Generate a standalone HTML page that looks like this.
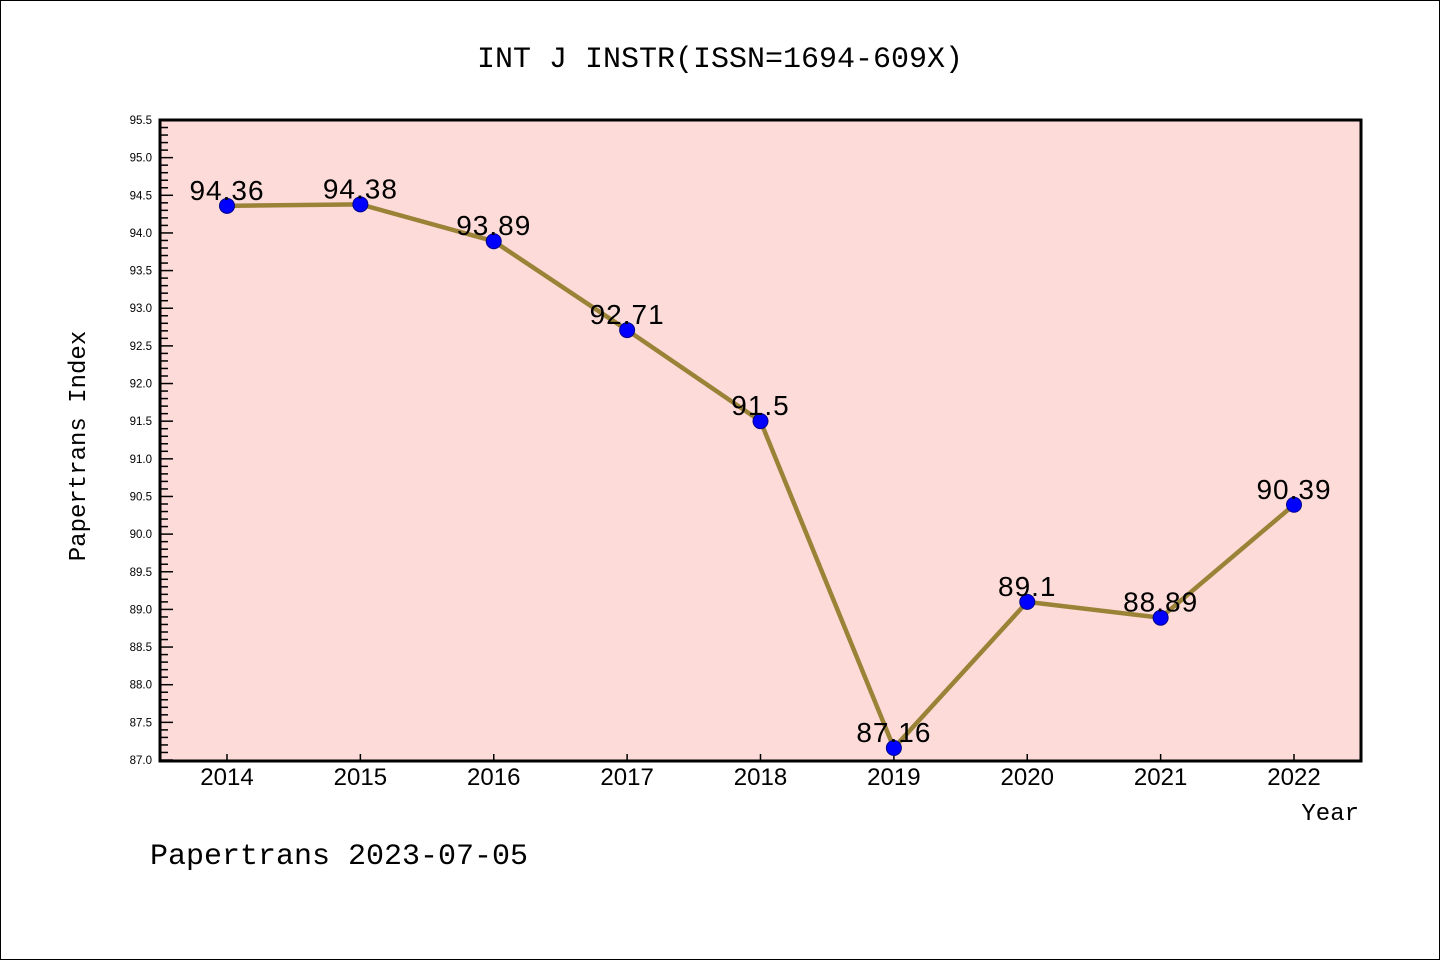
<!DOCTYPE html>
<html><head><meta charset="utf-8"><style>
body{margin:0;background:#fff}
svg{display:block;font-family:"Liberation Sans","WenQuanYi Zen Hei",sans-serif}
</style></head><body>
<svg id="c" width="1440" height="960">
<rect x="0.5" y="0.5" width="1439" height="959" fill="#fff" stroke="#000"/>
<text x="720" y="67" font-size="30" text-anchor="middle" font-family="'WenQuanYi Zen Hei','Liberation Mono',monospace">INT J INSTR(ISSN=1694-609X)</text>
<rect x="160" y="120" width="1201" height="641" fill="#fddbd8"/>
<g id="yt"></g><g id="xt"></g><g id="series"></g>
<rect x="160" y="120" width="1201" height="641" fill="none" stroke="#000" stroke-width="3"/>
<text transform="translate(85,446) rotate(-90)" font-size="24" text-anchor="middle" font-family="'WenQuanYi Zen Hei','Liberation Mono',monospace">Papertrans Index</text>
<text x="1359" y="820" font-size="24" text-anchor="end" font-family="'WenQuanYi Zen Hei','Liberation Mono',monospace">Year</text>
<text x="150" y="864" font-size="30" font-family="'WenQuanYi Zen Hei','Liberation Mono',monospace">Papertrans 2023-07-05</text>
</svg>
<script>
const years=["2014","2015","2016","2017","2018","2019","2020","2021","2022"];
const values=[94.36,94.38,93.89,92.71,91.5,87.16,89.1,88.89,90.39];
const labels=["94.36","94.38","93.89","92.71","91.5","87.16","89.1","88.89","90.39"];
const yMin=87.0,yMax=95.5;
const NS="http://www.w3.org/2000/svg";
function y(v){return 760-(v-yMin)/(yMax-yMin)*640;}
function x(i){return 227+i*(1294-227)/(years.length-1);}
function mk(t,a,p){const e=document.createElementNS(NS,t);for(const k in a)e.setAttribute(k,a[k]);p.appendChild(e);return e;}
const yt=document.getElementById('yt'),xt=document.getElementById('xt'),s=document.getElementById('series');
for(let k=0;k<=85;k++){const v=yMin+k*0.1,yy=y(v),maj=k%5===0;
 const l=mk('line',{x1:160,x2:maj?173:168,y1:yy,y2:yy,stroke:'#000','stroke-width':1.5},yt);
 
 
 if(maj){const t=mk('text',{x:152,y:yy+4,'font-size':11.5,'text-anchor':'end'},yt);t.textContent=v.toFixed(1);
 
 }}
years.forEach((yr,i)=>{const l=mk('line',{x1:x(i),x2:x(i),y1:760,y2:754,stroke:'#000','stroke-width':1.5},xt);
 
 
 const t=mk('text',{x:x(i),y:785,'font-size':24,'text-anchor':'middle','font-family':"'WenQuanYi Zen Hei',sans-serif"},xt);t.textContent=yr;
 
 });
const pl=mk('polyline',{points:values.map((v,i)=>x(i)+','+y(v)).join(' '),fill:'none',stroke:'#9a8237','stroke-width':4.5},s);


values.forEach((v,i)=>{const c=mk('circle',{cx:x(i),cy:y(v),r:7.5,fill:'#0000ff',stroke:'#00008b'},s);
 
 
 const t=mk('text',{x:x(i),y:y(v)-6,'font-size':28,'text-anchor':'middle','letter-spacing':'1','font-family':"'WenQuanYi Zen Hei',sans-serif"},s);t.textContent=labels[i];
 
 });
</script>
</body></html>
